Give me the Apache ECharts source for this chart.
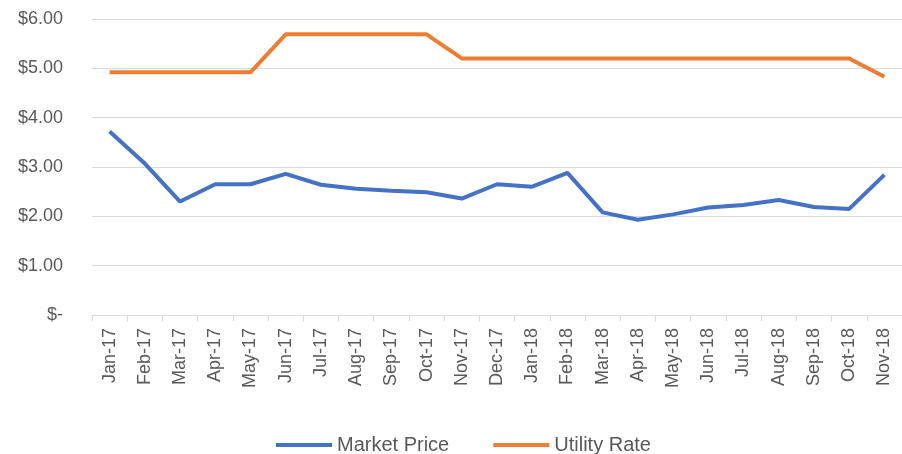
<!DOCTYPE html>
<html>
<head>
<meta charset="utf-8">
<script src="https://cdn.jsdelivr.net/npm/echarts@6/dist/echarts.min.js"></script>
<style>
  html, body { margin: 0; padding: 0; background: #fff; }
  #main { width: 902px; height: 454px; }
</style>
</head>
<body>
<div id="main"></div>
<script>
const months = ['Jan-17', 'Feb-17', 'Mar-17', 'Apr-17', 'May-17', 'Jun-17', 'Jul-17', 'Aug-17',
  'Sep-17', 'Oct-17', 'Nov-17', 'Dec-17', 'Jan-18', 'Feb-18', 'Mar-18', 'Apr-18', 'May-18',
  'Jun-18', 'Jul-18', 'Aug-18', 'Sep-18', 'Oct-18', 'Nov-18']
const marketPrice = [3.72, 3.07, 2.30, 2.65, 2.65, 2.86, 2.64, 2.56, 2.52, 2.49, 2.36, 2.65,
  2.60, 2.88, 2.08, 1.93, 2.04, 2.18, 2.23, 2.33, 2.19, 2.15, 2.84]
const utilityRate = [4.92, 4.92, 4.92, 4.92, 4.92, 5.69, 5.69, 5.69, 5.69, 5.69, 5.20, 5.20,
  5.20, 5.20, 5.20, 5.20, 5.20, 5.20, 5.20, 5.20, 5.20, 5.20, 4.83]

const textColor = '#595959'
const font = 'Liberation Sans, Arial, sans-serif'

const myChart = echarts.init(document.getElementById('main'))
const option = {
  animation: false,
  textStyle: { fontFamily: font },
  grid: {
    left: 92,
    right: -4,
    top: 19,
    bottom: 139
  },
  legend: {
    top: 430,
    left: 271,
    itemWidth: 56,
    itemHeight: 4,
    itemGap: 44,
    icon: 'rect',
    textStyle: { color: textColor, fontSize: 20, fontFamily: font },
    data: ['Market Price', 'Utility Rate']
  },
  xAxis: {
    type: 'category',
    data: months,
    boundaryGap: true,
    axisLine: { lineStyle: { color: '#d9d9d9', width: 1 } },
    axisTick: { show: true, length: 6, lineStyle: { color: '#d9d9d9' } },
    axisLabel: {
      rotate: 90,
      interval: 0,
      color: textColor,
      fontSize: 18,
      margin: 13
    }
  },
  yAxis: {
    type: 'value',
    min: 0,
    max: 6,
    interval: 1,
    axisLine: { show: false },
    axisTick: { show: false },
    splitLine: { lineStyle: { color: '#d9d9d9', width: 1 } },
    axisLabel: {
      color: textColor,
      fontSize: 18,
      margin: 29,
      formatter: function (v) {
        return v === 0 ? '$-' : '$' + v.toFixed(2)
      }
    }
  },
  series: [
    {
      name: 'Market Price',
      type: 'line',
      data: marketPrice,
      symbol: 'none',
      itemStyle: { color: '#4472C4' },
      lineStyle: { color: '#4472C4', width: 4 }
    },
    {
      name: 'Utility Rate',
      type: 'line',
      data: utilityRate,
      symbol: 'none',
      itemStyle: { color: '#ED7D31' },
      lineStyle: { color: '#ED7D31', width: 4 }
    }
  ]
}
myChart.setOption(option)
</script>
</body>
</html>
